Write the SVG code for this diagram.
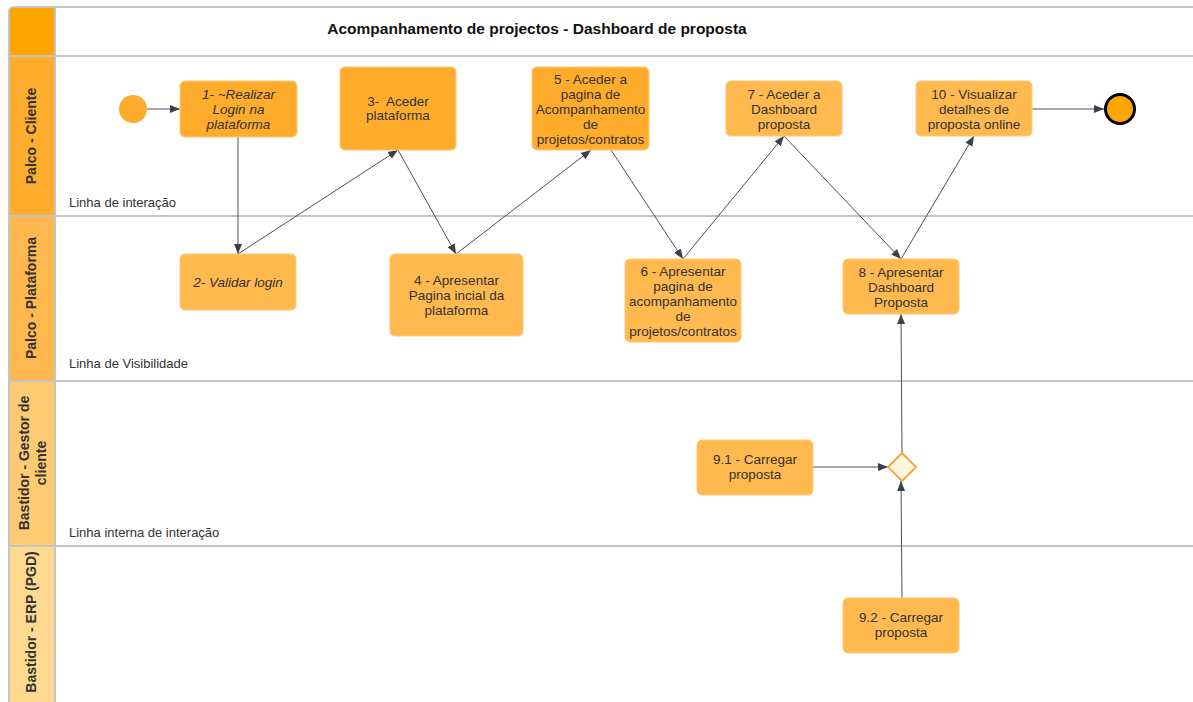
<svg xmlns="http://www.w3.org/2000/svg" width="1193" height="702" viewBox="0 0 1193 702">
  <style>
    .frame { fill: none; stroke: #c4c4c4; stroke-width: 2; }
    .sep { stroke: #c4c4c4; stroke-width: 2; }
    .title { font-family: "Liberation Sans", Arial, sans-serif; font-size: 15.5px; font-weight: bold; fill: #111; }
    .lane { font-family: "Liberation Sans", Arial, sans-serif; font-size: 14px; font-weight: bold; fill: #333; }
    .sub { font-family: "Liberation Sans", Arial, sans-serif; font-size: 13px; fill: #333; }
    .box { stroke: #ffc878; stroke-width: 1; }
    .dark { fill: #ffac2c; }
    .light { fill: #ffb94e; }
    .lbl { font-family: "Liberation Sans", Arial, sans-serif; font-size: 13.5px; fill: #333; text-anchor: middle; }
    .it { font-style: italic; }
    .conn { fill: none; stroke: #4b5059; stroke-width: 1; marker-end: url(#arrow); }
  </style>
  <defs>
    <marker id="arrow" viewBox="0 0 10 10" refX="10" refY="5" markerWidth="10" markerHeight="10" markerUnits="userSpaceOnUse" orient="auto">
      <path d="M0,1 L10,5 L0,9 z" fill="#3a414a"/>
    </marker>
  </defs>

  <!-- pool background and lane header column -->
  <rect x="0" y="0" width="1193" height="702" fill="#ffffff"/>
  <path d="M55,7 L14,7 Q9,7 9,12 L9,56 L55,56 z" fill="#ffa500"/>
  <rect x="9" y="56" width="46" height="160" fill="#ffad2c"/>
  <rect x="9" y="216" width="46" height="165" fill="#ffb84d"/>
  <rect x="9" y="381" width="46" height="165" fill="#ffcb72"/>
  <rect x="9" y="546" width="46" height="160" fill="#ffd98f"/>

  <path class="frame" d="M1200,7 L14,7 Q9,7 9,12 L9,710"/>
  <line class="sep" x1="55" y1="7" x2="55" y2="710"/>
  <line class="sep" x1="9" y1="56" x2="1200" y2="56"/>
  <line class="sep" x1="9" y1="216" x2="1200" y2="216"/>
  <line class="sep" x1="9" y1="381" x2="1200" y2="381"/>
  <line class="sep" x1="9" y1="546" x2="1200" y2="546"/>

  <text class="title" x="537" y="34" text-anchor="middle">Acompanhamento de projectos - Dashboard de proposta</text>

  <!-- lane titles -->
  <text class="lane" transform="translate(36,136) rotate(-90)" text-anchor="middle">Palco - Cliente</text>
  <text class="lane" transform="translate(36,298) rotate(-90)" text-anchor="middle">Palco - Plataforma</text>
  <text class="lane" transform="translate(29,463) rotate(-90)" text-anchor="middle">Bastidor - Gestor de</text>
  <text class="lane" transform="translate(46,463) rotate(-90)" text-anchor="middle">cliente</text>
  <text class="lane" transform="translate(36,622) rotate(-90)" text-anchor="middle">Bastidor - ERP (PGD)</text>

  <text class="sub" x="69" y="207">Linha de interação</text>
  <text class="sub" x="69" y="368">Linha de Visibilidade</text>
  <text class="sub" x="69" y="537">Linha interna de interação</text>

  <!-- connectors -->
  <g id="connectors">
    <line class="conn" x1="147" y1="109" x2="180" y2="109"/>
    <line class="conn" x1="238" y1="137" x2="238" y2="254"/>
    <line class="conn" x1="238" y1="254" x2="398" y2="150"/>
    <line class="conn" x1="398" y1="150" x2="456" y2="254"/>
    <line class="conn" x1="456" y1="254" x2="591" y2="150"/>
    <line class="conn" x1="611" y1="150" x2="683" y2="259"/>
    <line class="conn" x1="683" y1="259" x2="784" y2="136"/>
    <line class="conn" x1="784" y1="136" x2="901" y2="259"/>
    <line class="conn" x1="901" y1="259" x2="974" y2="136"/>
    <line class="conn" x1="1032" y1="109" x2="1104" y2="109"/>
    <line class="conn" x1="813" y1="467" x2="888" y2="467"/>
    <line class="conn" x1="902" y1="598" x2="901" y2="481"/>
    <line class="conn" x1="902" y1="453" x2="901" y2="314"/>
  </g>

  <g id="start"><circle cx="133" cy="109" r="14" fill="#ffac2c"/></g>
  <g id="end"><circle cx="1120" cy="109" r="14.5" fill="#ffa500" stroke="#000" stroke-width="3"/></g>

  <g id="n1">
    <rect class="box dark" x="180" y="81" width="117" height="56" rx="5"/>
    <text class="lbl it" x="238.5" y="98.5">1- ~Realizar</text>
    <text class="lbl it" x="238.5" y="113.5">Login na</text>
    <text class="lbl it" x="238.5" y="128.5">plataforma</text>
  </g>
  <g id="n2">
    <rect class="box light" x="180" y="254" width="116" height="56" rx="5"/>
    <text class="lbl it" x="238" y="286.5">2- Validar login</text>
  </g>
  <g id="n3">
    <rect class="box dark" x="340" y="67" width="116" height="83" rx="5"/>
    <text class="lbl" x="398" y="105.5" xml:space="preserve">3-  Aceder</text>
    <text class="lbl" x="398" y="119.5">plataforma</text>
  </g>
  <g id="n4">
    <rect class="box light" x="390" y="254" width="133" height="82" rx="5"/>
    <text class="lbl" x="456.5" y="284.5">4 - Apresentar</text>
    <text class="lbl" x="456.5" y="299.5">Pagina incial da</text>
    <text class="lbl" x="456.5" y="314.5">plataforma</text>
  </g>
  <g id="n5">
    <rect class="box dark" x="532" y="67" width="117" height="83" rx="5"/>
    <text class="lbl" x="590.5" y="83.5">5 - Aceder a</text>
    <text class="lbl" x="590.5" y="98.5">pagina de</text>
    <text class="lbl" x="590.5" y="113.5">Acompanhamento</text>
    <text class="lbl" x="590.5" y="128.5">de</text>
    <text class="lbl" x="590.5" y="143.5">projetos/contratos</text>
  </g>
  <g id="n6">
    <rect class="box light" x="625" y="259" width="116" height="83" rx="5"/>
    <text class="lbl" x="683" y="275.5">6 - Apresentar</text>
    <text class="lbl" x="683" y="290.5">pagina de</text>
    <text class="lbl" x="683" y="305.5">acompanhamento</text>
    <text class="lbl" x="683" y="320.5">de</text>
    <text class="lbl" x="683" y="335.5">projetos/contratos</text>
  </g>
  <g id="n7">
    <rect class="box light" x="726" y="81" width="116" height="55" rx="5"/>
    <text class="lbl" x="784" y="98.5">7 - Aceder a</text>
    <text class="lbl" x="784" y="113.5">Dashboard</text>
    <text class="lbl" x="784" y="128.5">proposta</text>
  </g>
  <g id="n8">
    <rect class="box light" x="843" y="259" width="116" height="55" rx="5"/>
    <text class="lbl" x="901" y="276.5">8 - Apresentar</text>
    <text class="lbl" x="901" y="291.5">Dashboard</text>
    <text class="lbl" x="901" y="306.5">Proposta</text>
  </g>
  <g id="n10">
    <rect class="box light" x="916" y="81" width="116" height="55" rx="5"/>
    <text class="lbl" x="974" y="98.5">10 - Visualizar</text>
    <text class="lbl" x="974" y="113.5">detalhes de</text>
    <text class="lbl" x="974" y="128.5">proposta online</text>
  </g>
  <g id="n91">
    <rect class="box light" x="697" y="440" width="116" height="55" rx="5"/>
    <text class="lbl" x="755" y="463.5">9.1 - Carregar</text>
    <text class="lbl" x="755" y="478.5">proposta</text>
  </g>
  <g id="gateway">
    <path d="M902,453 L916,467 L902,481 L888,467 z" fill="#fff8dc" stroke="#f5a54a" stroke-width="2" stroke-linejoin="round"/>
  </g>
  <g id="n92">
    <rect class="box light" x="843" y="598" width="116" height="55" rx="5"/>
    <text class="lbl" x="901" y="621.5">9.2 - Carregar</text>
    <text class="lbl" x="901" y="636.5">proposta</text>
  </g>
</svg>
